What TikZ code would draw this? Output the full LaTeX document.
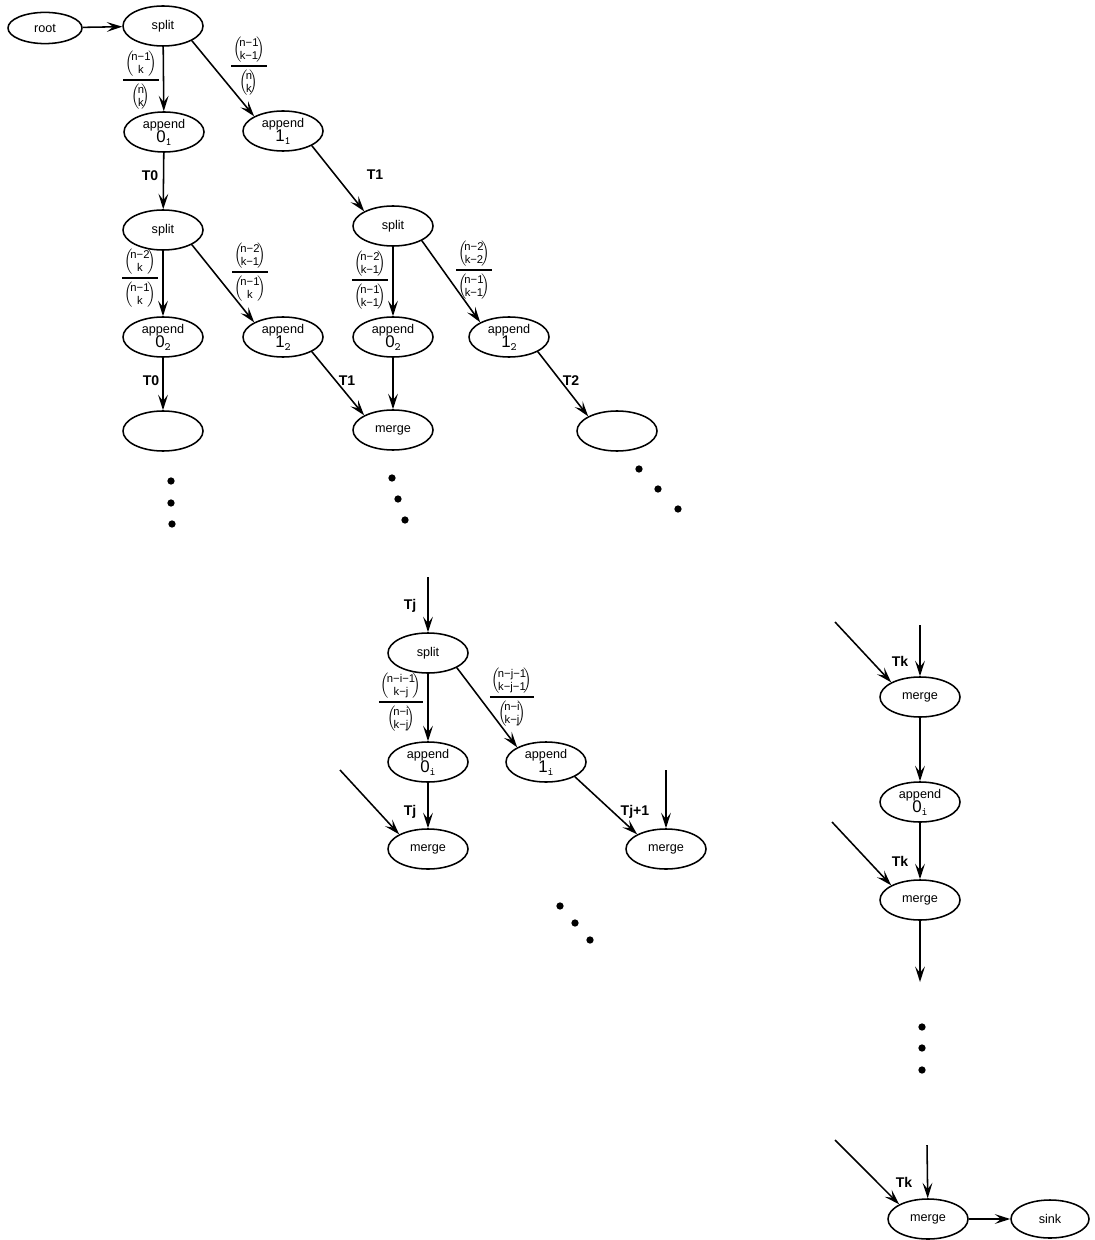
\documentclass[tikz,border=0pt]{standalone}
\usepackage{amsmath}
\usepackage{fontspec}
\setmainfont{Liberation Sans}
\usetikzlibrary{shapes.geometric}
\usetikzlibrary{arrows.meta}
\tikzset{>={Stealth[length=11pt,width=7pt,inset=4.5pt]}}
\tikzset{blob/.style={draw, ellipse, minimum width=2cm, minimum height=1cm, inner xsep=0pt, inner ysep=-3pt, align=center, font=\small}}
\tikzset{tlab/.style={font=\bfseries}}
\newcommand{\bnm}[2]{\Big(\!\begin{tabular}{@{}c@{}}\footnotesize #1\\[-2.6pt]\footnotesize #2\end{tabular}\!\Big)}
\newcommand{\ratio}[4]{\vbox{\offinterlineskip\halign{\hfil\kern1.5pt##\kern1.5pt\hfil\cr$\bnm{#1}{#2}$\cr\noalign{\kern0.5pt\hrule height1.3pt\kern0.5pt}$\bnm{#3}{#4}$\cr}}}
\newcommand{\app}[2]{append\\[-1pt]{\large #1}\raisebox{-2pt}{\footnotesize\ttfamily #2}}

\begin{document}
\begin{tikzpicture}[x=0.025cm, y=-0.025cm, line width=1.1pt]
\useasboundingbox (0,0) rectangle (1094,1240);
% first split
\node[blob, minimum width=1.85cm, minimum height=0.78cm] (root) at (45,28) {root};
\node[blob] (s1) at (163,26) {split};
\node[blob] (a01) at (164,132) {\app{0}{1}};
\node[blob] (a11) at (283,131) {\app{1}{1}};
% second level
\node[blob] (s2) at (163,230) {split};
\node[blob] (a02) at (163,337) {\app{0}{2}};
\node[blob] (a12) at (283,337) {\app{1}{2}};
\node[blob] (e1) at (163,431) {};
\node[blob] (s3) at (393,226) {split};
\node[blob] (a02b) at (393,337) {\app{0}{2}};
\node[blob] (a12b) at (509,337) {\app{1}{2}};
\node[blob] (m1) at (393,430) {merge};
\node[blob] (e2) at (617,431) {};
% general step
\node[blob] (s4) at (428,653) {split};
\node[blob] (a0i) at (428,762) {\app{0}{i}};
\node[blob] (a1i) at (546,762) {\app{1}{i}};
\node[blob] (m2) at (428,849) {merge};
\node[blob] (m3) at (666,849) {merge};
% last column
\node[blob] (m4) at (920,697) {merge};
\node[blob] (a0k) at (920,802) {\app{0}{i}};
\node[blob] (m5) at (920,900) {merge};
\node[blob] (m6) at (928,1219) {merge};
\node[blob, minimum width=1.95cm, minimum height=0.95cm] (sink) at (1050,1219) {sink};

\coordinate (c1) at (428,577);
\coordinate (c2) at (340,770);
\coordinate (c3) at (666,770);
\coordinate (c4) at (920,625);
\coordinate (c5) at (835,622);
\coordinate (c6) at (832,822);
\coordinate (c7) at (920,982);
\coordinate (c8) at (927,1145);
\coordinate (c9) at (835,1140);

% arrows
\draw[->] (root) -- (s1);
\draw[->] (s1) -- (a01);
\draw[->] (s1.south east) -- (a11.north west);
\draw[->] (a01) -- (s2);
\draw[->] (a11.south east) -- (s3.north west);
\draw[->] (s2) -- (a02);
\draw[->] (s2.south east) -- (a12.north west);
\draw[->] (a02) -- (e1);
\draw[->] (a12.south east) -- (m1.north west);
\draw[->] (s3) -- (a02b);
\draw[->] (s3.south east) -- (a12b.north west);
\draw[->] (a02b) -- (m1);
\draw[->] (a12b.south east) -- (e2.north west);
\draw[->] (c1) -- (s4);
\draw[->] (s4) -- (a0i);
\draw[->] (s4.south east) -- (a1i.north west);
\draw[->] (a0i) -- (m2);
\draw[->] (c2) -- (m2.north west);
\draw[->] (a1i.south east) -- (m3.north west);
\draw[->] (c3) -- (m3);
\draw[->] (c4) -- (m4);
\draw[->] (c5) -- (m4.north west);
\draw[->] (m4) -- (a0k);
\draw[->] (a0k) -- (m5);
\draw[->] (c6) -- (m5.north west);
\draw[->] (m5) -- (c7);
\draw[->] (c8) -- (m6);
\draw[->] (c9) -- (m6.north west);
\draw[->] (m6) -- (sink);

% labels
\node (r1) at (141,80) {\ratio{n−1}{k}{n}{k}};
\node (r2) at (249,66) {\ratio{n−1}{k−1}{n}{k}};
\node (r3) at (140,278) {\ratio{n−2}{k}{n−1}{k}};
\node (r4) at (250,272) {\ratio{n−2}{k−1}{n−1}{k}};
\node (r5) at (370,280) {\ratio{n−2}{k−1}{n−1}{k−1}};
\node (r6) at (474,270) {\ratio{n−2}{k−2}{n−1}{k−1}};
\node (r7) at (401,702) {\ratio{n−i−1}{k−j}{n−i}{k−j}};
\node (r8) at (512,697) {\ratio{n−j−1}{k−j−1}{n−i}{k−j}};
\node[tlab] (t1) at (150,176) {T0};
\node[tlab] (t2) at (375,175) {T1};
\node[tlab] (t3) at (151,381) {T0};
\node[tlab] (t4) at (347,381) {T1};
\node[tlab] (t5) at (571,381) {T2};
\node[tlab] (t6) at (410,606) {Tj};
\node[tlab] (t7) at (410,812) {Tj};
\node[tlab] (t8) at (635,812) {Tj+1};
\node[tlab] (t9) at (900,661) {Tk};
\node[tlab] (t10) at (900,861) {Tk};
\node[tlab] (t11) at (904,1182) {Tk};

% dots
\filldraw (171,481) circle (2pt);
\filldraw (171,503) circle (2pt);
\filldraw (172,524) circle (2pt);
\filldraw (392,478) circle (2pt);
\filldraw (398,499) circle (2pt);
\filldraw (405,520) circle (2pt);
\filldraw (639,469) circle (2pt);
\filldraw (658,489) circle (2pt);
\filldraw (678,509) circle (2pt);
\filldraw (560,906) circle (2pt);
\filldraw (575,923) circle (2pt);
\filldraw (590,940) circle (2pt);
\filldraw (922,1027) circle (2pt);
\filldraw (922,1048) circle (2pt);
\filldraw (922,1070) circle (2pt);
\end{tikzpicture}
\end{document}
